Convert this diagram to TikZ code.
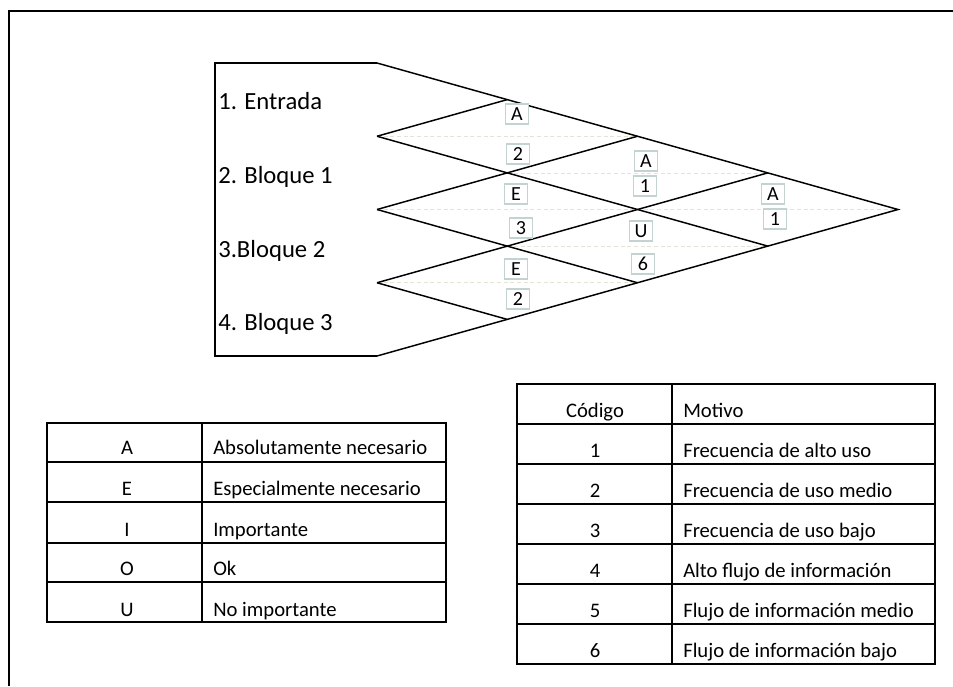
\documentclass[tikz,border=0pt]{standalone}
\usepackage{fontspec}
\setmainfont{Carlito}
\begin{document}
\begin{tikzpicture}[x=0.75pt,y=-0.75pt,
  chart/.style={line width=1.1pt,black,line join=miter},
  faint/.style={dash pattern=on 3pt off 2pt,line width=0.6pt,color={rgb,255:red,228;green,228;blue,210}},
  rowlab/.style={anchor=base west,inner sep=0pt,font=\fontsize{18.5}{20}\selectfont},
  tag/.style={draw={rgb,255:red,196;green,210;blue,210},line width=0.9pt,fill=white,inner sep=1.5pt,
    minimum width=17pt,minimum height=15pt,font=\fontsize{15}{15}\selectfont},
  grid/.style={line width=1.1pt,black},
  cellc/.style={anchor=base,inner sep=0pt,font=\fontsize{15.5}{16}\selectfont},
  celll/.style={anchor=base west,inner sep=0pt,font=\fontsize{15.5}{16}\selectfont}]
\useasboundingbox (0,0) rectangle (953,686);
% outer frame
\draw[line width=1.3pt] (9,686) -- (9,11) -- (953,11);
% coordinates of the chart
\coordinate (TL) at (377,63);
\coordinate (BL) at (377,356);
\coordinate (AP) at (898,209.5);
\coordinate (V1) at (377,136.25);
\coordinate (V2) at (377,209.5);
\coordinate (V3) at (377,282.75);
% faint centre lines
\draw[faint] (377,136.25) -- (637.5,136.25);
\draw[faint] (507.25,172.9) -- (767.75,172.9);
\draw[faint] (377,209.5) -- (898,209.5);
\draw[faint] (507.25,246.1) -- (767.75,246.1);
\draw[faint] (377,282.75) -- (637.5,282.75);
% chart outline
\draw[chart] (TL) -- (215,63) -- (215,356) -- (BL);
\draw[chart] (TL) -- (AP) -- (BL);
\draw[chart] (V1) -- (767.75,246.1);
\draw[chart] (V1) -- (507.25,99.6);
\draw[chart] (V2) -- (637.5,282.75);
\draw[chart] (V2) -- (637.5,136.25);
\draw[chart] (V3) -- (507.25,319.4);
\draw[chart] (V3) -- (767.75,172.9);
% row labels
\node[rowlab] (r1) at (218,109) {1. Entrada};
\node[rowlab] (r2) at (218,183) {2. Bloque 1};
\node[rowlab] (r3) at (218,257) {3.Bloque 2};
\node[rowlab] (r4) at (218,330) {4. Bloque 3};
% relationship tags
\node[tag] (a12) at (517,114) {A};
\node[tag] (c12) at (518,154) {2};
\node[tag] (a23) at (516,194) {E};
\node[tag] (c23) at (521,228) {3};
\node[tag] (a34) at (516,269) {E};
\node[tag] (c34) at (518,299) {2};
\node[tag] (a13) at (646,161) {A};
\node[tag] (c13) at (645,186) {1};
\node[tag] (a24) at (641,231) {U};
\node[tag] (c24) at (643,264) {6};
\node[tag] (a14) at (773,194) {A};
\node[tag] (c14) at (775,219) {1};
% left table
\draw[grid] (47,423) rectangle (446,622);
\draw[grid] (202,423) -- (202,622);
\foreach \yy in {462,502,543,582} \draw[grid] (47,\yy) -- (446,\yy);
\node[cellc] (ka) at (127,454) {A};
\node[celll] (ta) at (213,454) {Absolutamente necesario};
\node[cellc] (ke) at (127,495) {E};
\node[celll] (te) at (213,495) {Especialmente necesario};
\node[cellc] (ki) at (127,536) {I};
\node[celll] (ti) at (213,536) {Importante};
\node[cellc] (ko) at (127,575) {O};
\node[celll] (to) at (213,575) {Ok};
\node[cellc] (ku) at (127,616) {U};
\node[celll] (tu) at (213,616) {No importante};
% right table
\draw[grid] (517,384) rectangle (935,664);
\draw[grid] (672,384) -- (672,664);
\foreach \yy in {424,464,504,544,584,624} \draw[grid] (517,\yy) -- (935,\yy);
\node[cellc] (h1) at (595,417) {Código};
\node[celll] (h2) at (683,417) {Motivo};
\node[cellc] (n1) at (595,457) {1};
\node[celll] (m1) at (683,457) {Frecuencia de alto uso};
\node[cellc] (n2) at (595,497) {2};
\node[celll] (m2) at (683,497) {Frecuencia de uso medio};
\node[cellc] (n3) at (595,537) {3};
\node[celll] (m3) at (683,537) {Frecuencia de uso bajo};
\node[cellc] (n4) at (595,577) {4};
\node[celll] (m4) at (683,577) {Alto flujo de información};
\node[cellc] (n5) at (595,617) {5};
\node[celll] (m5) at (683,617) {Flujo de información medio};
\node[cellc] (n6) at (595,657) {6};
\node[celll] (m6) at (683,657) {Flujo de información bajo};
\end{tikzpicture}
\end{document}
